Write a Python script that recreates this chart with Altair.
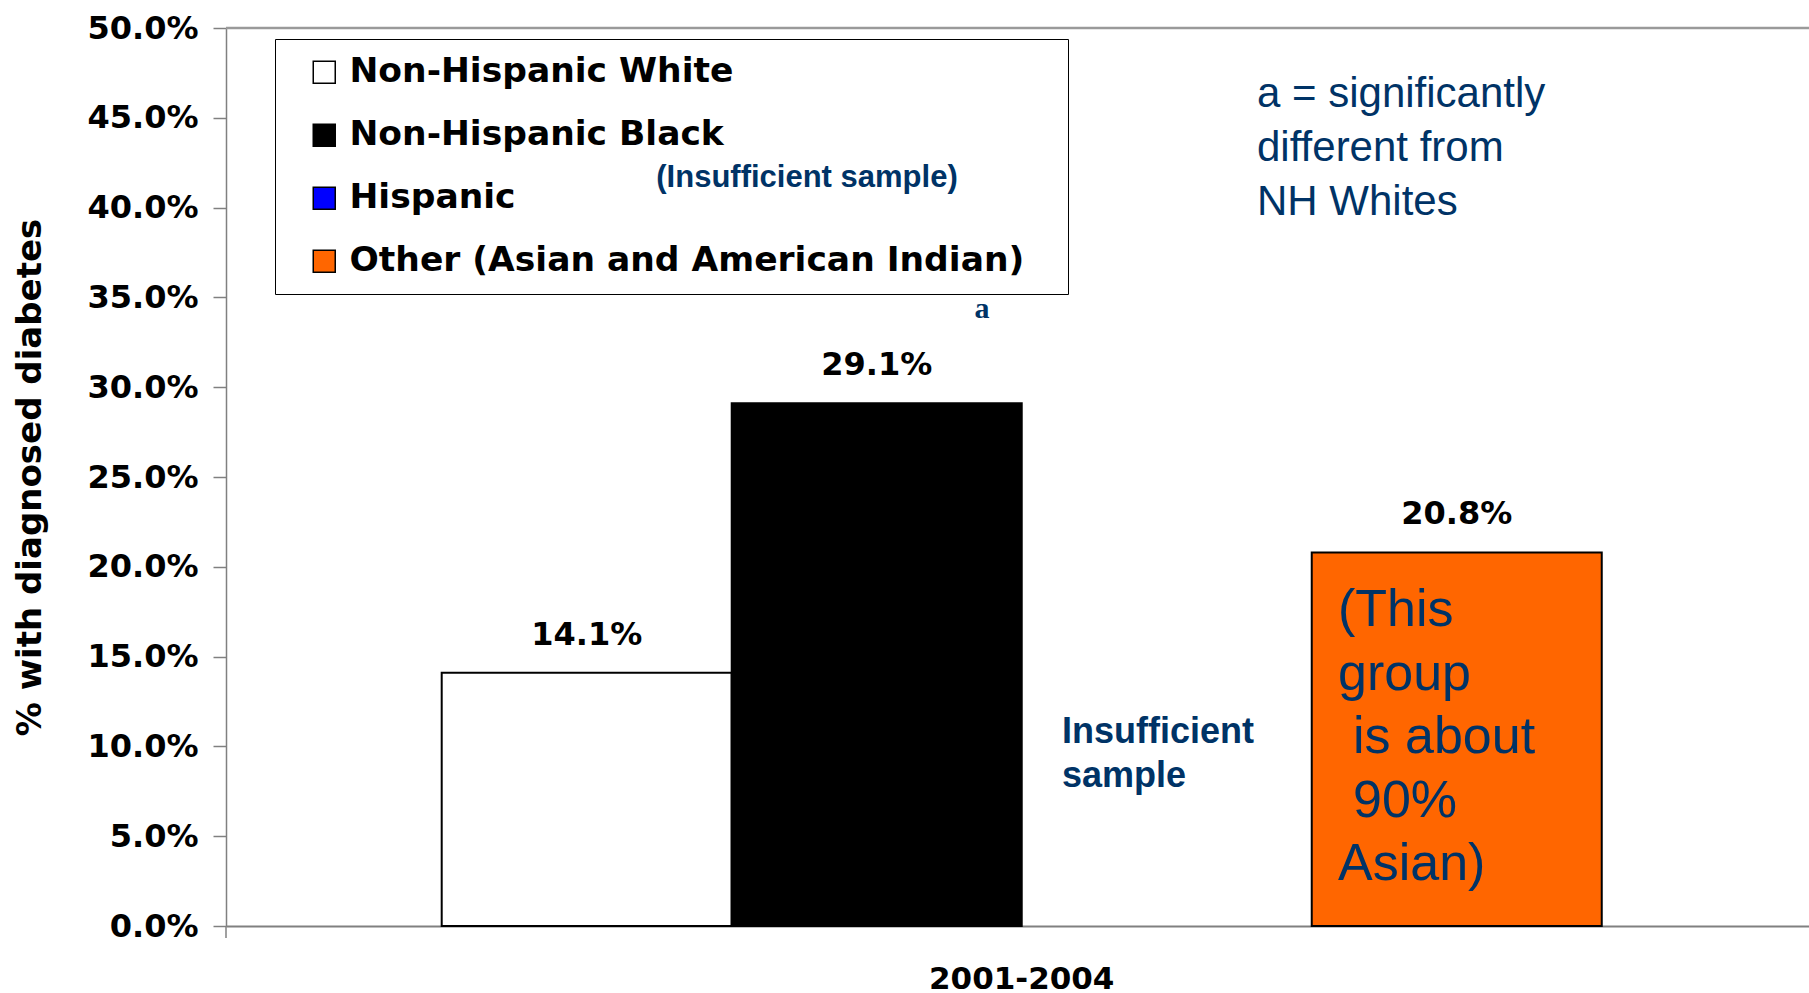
import altair as alt
import pandas as pd

# ---------------- data ----------------
period = "2001-2004"
groups = ["Non-Hispanic White", "Non-Hispanic Black", "Hispanic",
          "Other (Asian and American Indian)"]
values = [14.1, 29.1, None, 20.8]          # Hispanic: insufficient sample
colors = ["#FFFFFF", "#000000", "#0000FF", "#FF6600"]
y_ticks = [0, 5, 10, 15, 20, 25, 30, 35, 40, 45, 50]

legend_note = "(Insufficient sample)"
sig_marker = "a"
sig_note = ["a = significantly", "different from", "NH Whites"]
hisp_note = ["Insufficient", "sample"]
other_note_a = ["(This", "group"]
other_note_b = ["is about", "90%"]
other_note_c = ["Asian)"]

# ---------------- style ----------------
W, H = 1583, 898
NAVY = "#003366"
BOLD = "DejaVu Sans"
SANS = "Liberation Sans"
GRAY = "#808080"

df = pd.DataFrame({"period": [period] * len(groups), "group": groups, "value": values})
bars_df = df.dropna().copy()
bars_df["label"] = bars_df["value"].map(lambda v: f"{v:.1f}%")

x_enc = alt.X(
    "period:N",
    scale=alt.Scale(paddingInner=0, paddingOuter=0.1823, align=0.51),
    axis=alt.Axis(title=None, labelAngle=0, labelFont=BOLD, labelFontWeight="bold",
                  labelFontSize=31, labelColor="black", labelBaseline="alphabetic",
                  labelPadding=62, labelLimit=600, ticks=False, tickSize=0,
                  domainColor=GRAY, domainWidth=2, grid=False),
)
xoff = alt.XOffset("group:N", sort=groups,
                   scale=alt.Scale(domain=groups, paddingInner=0, paddingOuter=0))
y_scale = alt.Scale(domain=[0, 50], nice=False, zero=True)
y_enc = alt.Y(
    "value:Q", scale=y_scale,
    axis=alt.Axis(values=y_ticks, labelExpr="format(datum.value, '.1f') + '%'",
                  title="% with diagnosed diabetes", titleFont=BOLD,
                  titleFontWeight="bold", titleFontSize=34, titleColor="black",
                  titleX=-186, titleY=H / 2, titleAngle=270, titleAlign="center",
                  titleBaseline="alphabetic", labelFont=BOLD, labelFontWeight="bold",
                  labelFontSize=32, labelColor="black", labelPadding=15, tickSize=13,
                  tickColor=GRAY, tickWidth=1.5, domainColor=GRAY, domainWidth=1.5,
                  grid=False),
)
fill = alt.Fill(
    "group:N", sort=groups, scale=alt.Scale(domain=groups, range=colors),
    legend=alt.Legend(orient="none", legendX=49, legendY=11, title=None,
                      direction="vertical", strokeColor="black",
                      padding=16, symbolType="square", symbolSize=484,
                      symbolStrokeColor="black", symbolStrokeWidth=1.5,
                      symbolOffset=16, labelOffset=8, labelFont=BOLD,
                      labelFontWeight="bold", labelFontSize=34.5, labelColor="black",
                      labelLimit=2000, rowPadding=28,
                      labelExpr="datum.label + '\u2800'"),
)

base = alt.Chart(bars_df)
bars = base.mark_bar(stroke="black", strokeWidth=2).encode(
    x=x_enc, xOffset=xoff, y=y_enc, fill=fill)
labels = base.mark_text(font=BOLD, fontWeight="bold", fontSize=32, color="black",
                        baseline="alphabetic", dy=-28).encode(
    x=alt.X("period:N"), xOffset=xoff, y=alt.Y("value:Q"), text="label:N")

top_line = alt.Chart(pd.DataFrame({"value": [50]})).mark_rule(
    color="#9a9a9a", strokeWidth=2.5).encode(
    y=alt.Y("value:Q"), x=alt.value(0), x2=alt.value(W))

one = pd.DataFrame({"k": [0]})
corner_tick = alt.Chart(one).mark_rule(color=GRAY, strokeWidth=1.5).encode(
    x=alt.value(0), y=alt.value(H), y2=alt.value(H + 12))


def note(text, x, y, size, weight="normal", font=SANS, line_height=None, align="left"):
    kw = dict(text=text, font=font, fontWeight=weight, fontSize=size, color=NAVY,
              align=align, baseline="alphabetic")
    if line_height:
        kw["lineHeight"] = line_height
    return alt.Chart(one).mark_text(**kw).encode(x=alt.value(x), y=alt.value(y))


t_legend = note(legend_note, 581, 159, 31, "bold", align="center")
t_a = note(sig_marker, 756, 290, 30, "bold", font="Liberation Serif", align="center")
t_sig = note(sig_note, 1031, 79, 42, line_height=54)
t_hisp = note(hisp_note, 836, 715, 36, "bold", line_height=44)
t_other_a = note(other_note_a, 1112, 598, 52, line_height=63.5)
t_other_b = note(other_note_b, 1127, 725, 52, line_height=63.5)
t_other_c = note(other_note_c, 1112, 852, 52)

chart = alt.layer(
    bars, labels, top_line, corner_tick, t_legend, t_a, t_sig, t_hisp,
    t_other_a, t_other_b, t_other_c
).properties(
    width=W, height=H,
    autosize=alt.AutoSizeParams(type="none"),
    padding={"left": 226, "top": 28, "right": 0, "bottom": 67},
    background="white",
).configure_view(stroke=None)

chart.save("out.html", embed_options={"renderer": "svg", "actions": False})
